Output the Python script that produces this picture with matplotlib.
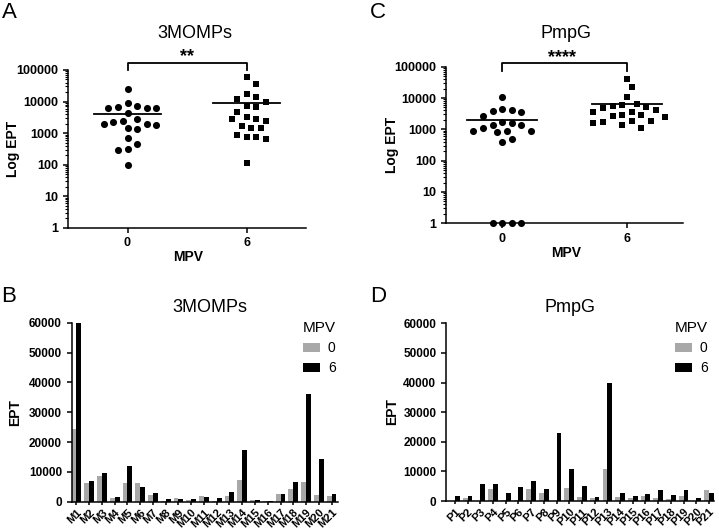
import matplotlib
matplotlib.use("Agg")
import matplotlib.pyplot as plt
from matplotlib.patches import Patch
from matplotlib.ticker import LogLocator, FuncFormatter, NullFormatter
import numpy as np

plt.rcParams['font.family'] = ['Liberation Sans', 'DejaVu Sans']

# EPT per mouse, pre-immune (0) and after 6 doses (6)
momp_mice = ['M1', 'M2', 'M3', 'M4', 'M5', 'M6', 'M7', 'M8', 'M9', 'M10', 'M11',
             'M12', 'M13', 'M14', 'M15', 'M16', 'M17', 'M18', 'M19', 'M20', 'M21']
momp_0 = [24300, 6200, 8700, 1400, 6400, 6200, 2400, 320, 1300, 440, 1900,
          300, 1800, 7200, 715, 100, 2700, 4200, 6500, 2300, 2000]
momp_6 = [61500, 7000, 9500, 1700, 12100, 4800, 2800, 900, 750, 750, 1500,
          1400, 3200, 17300, 650, 110, 2700, 6500, 36200, 14300, 2500]

pmpg_mice = ['P1', 'P2', 'P3', 'P4', 'P5', 'P6', 'P7', 'P8', 'P9', 'P10', 'P11',
             'P12', 'P13', 'P14', 'P15', 'P16', 'P17', 'P18', 'P19', 'P20', 'P21']
pmpg_0 = [0, 900, 0, 4100, 500, 400, 3900, 2700, 0, 4300, 1400,
          900, 10700, 1400, 1100, 1700, 900, 800, 1600, 0, 3600]
pmpg_6 = [1700, 1800, 5800, 5600, 2800, 4700, 6600, 4000, 22800, 10700, 5200,
          1400, 40000, 2700, 1600, 2500, 3600, 1900, 3600, 1100, 2800]

mpv_groups = ['0', '6']
log_ticks = [1, 10, 100, 1000, 10000, 100000]
bar_ticks = [0, 10000, 20000, 30000, 40000, 50000, 60000]

W, H = 719, 530
fig = plt.figure(figsize=(W / 100, H / 100), dpi=100)


def px_axes(left, top, right, bottom):
    return fig.add_axes([left / W, 1 - bottom / H, (right - left) / W, (bottom - top) / H])


def style(ax, size):
    for s in ['top', 'right']:
        ax.spines[s].set_visible(False)
    for s in ['left', 'bottom']:
        ax.spines[s].set_linewidth(1.1)
    ax.tick_params(width=1.1, length=3.5, labelsize=size)
    for lab in ax.get_xticklabels() + ax.get_yticklabels():
        lab.set_fontweight('bold')


def swarm_x(ax, xc, vals, step=4.8, mind=8.8):
    ys = ax.transData.transform(np.column_stack([np.full(len(vals), xc), vals]))[:, 1]
    order = np.argsort(-ys)
    placed = []
    offs = np.zeros(len(vals))
    for i in order:
        k = 0
        found = None
        while found is None:
            cands = [0.0] if k == 0 else [k * step, -k * step]
            for c in cands:
                if all((c - px) ** 2 + (ys[i] - py) ** 2 >= mind ** 2 for px, py in placed):
                    found = c
                    break
            k += 1
        placed.append((found, ys[i]))
        offs[i] = found
    x0 = ax.transData.transform((xc, 1))[0]
    x1 = ax.transData.transform((xc + 1, 1))[0]
    return xc + offs / (x1 - x0)


def scatter_panel(box, xlim, v0, v6, title, stars, letter, title_xy, star_xy, br_y, br_low,
                  ylab_xy, xlab_xy, letter_xy):
    ax = px_axes(*box)
    ax.set_yscale('log')
    ax.set_ylim(1, 100000)
    ax.set_xlim(*xlim)
    ax.set_xticks([0, 1])
    ax.set_xticklabels(mpv_groups)
    ax.set_yticks(log_ticks)
    ax.yaxis.set_major_formatter(FuncFormatter(lambda v, p: '%d' % v))
    ax.yaxis.set_minor_locator(LogLocator(base=10, subs=np.arange(2, 10)))
    ax.yaxis.set_minor_formatter(NullFormatter())
    style(ax, 9)
    ax.tick_params(axis='y', which='minor', length=2, width=0.8)
    for xc, vals, mk in [(0, v0, 'o'), (1, v6, 's')]:
        vals = np.array(vals, dtype=float)
        shown = np.maximum(vals, 1)
        xs = swarm_x(ax, xc, shown)
        ax.scatter(xs, shown, marker=mk, s=26 if mk == 'o' else 24, color='black',
                   linewidths=0, clip_on=False, zorder=3)
        m = vals.mean()
        ax.plot([xc - 0.28, xc + 0.28], [m, m], color='black', lw=1.3, zorder=4)
    trans = ax.get_xaxis_transform()
    ax.plot([0, 0, 1, 1], [br_low, br_y, br_y, br_low], color='black', lw=1.3,
            transform=trans, clip_on=False)
    fig.text(star_xy[0] / W, 1 - star_xy[1] / H, stars, fontsize=13, fontweight='bold',
             ha='center', va='center')
    fig.text(title_xy[0] / W, 1 - title_xy[1] / H, title, fontsize=13, ha='center', va='center')
    fig.text(ylab_xy[0] / W, 1 - ylab_xy[1] / H, 'Log EPT', fontsize=10, fontweight='bold',
             rotation=90, ha='center', va='center')
    fig.text(xlab_xy[0] / W, 1 - xlab_xy[1] / H, 'MPV', fontsize=10, fontweight='bold',
             ha='center', va='center')
    fig.text(letter_xy[0] / W, 1 - letter_xy[1] / H, letter, fontsize=16, ha='center', va='center')
    return ax


def bar_panel(box, xlim, names, v0, v6, title, letter, title_xy, ylab_xy, legend_xy, letter_xy):
    ax = px_axes(*box)
    x = np.arange(len(names))
    ax.bar(x, v0, width=-0.375, align='edge', color='#a8a8a8', linewidth=0)
    ax.bar(x, v6, width=0.375, align='edge', color='black', linewidth=0)
    ax.set_xlim(*xlim)
    ax.set_ylim(0, 60000)
    ax.set_yticks(bar_ticks)
    ax.set_xticks(x)
    ax.set_xticklabels(names, rotation=45, ha='right', va='top', rotation_mode='anchor')
    style(ax, 8.5)
    ax.tick_params(axis='x', length=2, labelsize=8, pad=2)
    handles = [Patch(facecolor='#a8a8a8', edgecolor='none', label='0'),
               Patch(facecolor='black', edgecolor='none', label='6')]
    ax.legend(handles=handles, title='MPV', loc='upper left',
              bbox_to_anchor=(legend_xy[0] / W, 1 - legend_xy[1] / H),
              bbox_transform=fig.transFigure, frameon=False, borderpad=0,
              borderaxespad=0, handlelength=1.2, handleheight=0.6,
              labelspacing=0.45, handletextpad=0.6, fontsize=10,
              title_fontsize=11, alignment='left')
    fig.text(title_xy[0] / W, 1 - title_xy[1] / H, title, fontsize=13, ha='center', va='center')
    fig.text(ylab_xy[0] / W, 1 - ylab_xy[1] / H, 'EPT', fontsize=10, fontweight='bold',
             rotation=90, ha='center', va='center')
    fig.text(letter_xy[0] / W, 1 - letter_xy[1] / H, letter, fontsize=16, ha='center', va='center')
    return ax


scatter_panel((68, 70, 306, 227.7), (-0.5, 1.5), momp_0, momp_6, '3MOMPs', '**', 'A',
              (195, 33), (187, 57), 1.042, 1.0, (13, 149), (188, 257), (9, 12))
scatter_panel((446, 66.7, 683.3, 223.3), (-0.45, 1.45), pmpg_0, pmpg_6, 'PmpG', '****', 'C',
              (566, 33), (562, 58), 1.022, 0.975, (392, 145), (566, 253), (378, 12))
bar_panel((71.7, 322.7, 337.5, 501.7), (-0.375, 20.47), momp_mice, momp_0, momp_6, '3MOMPs',
          'B', (210, 308), (15, 413), (303, 321), (9, 296))
bar_panel((446, 323.3, 714.4, 501), (-0.706, 20.43), pmpg_mice, pmpg_0, pmpg_6, 'PmpG',
          'D', (570, 308), (392, 412), (675, 321), (378, 296))

fig.savefig('out.png', dpi=100)
